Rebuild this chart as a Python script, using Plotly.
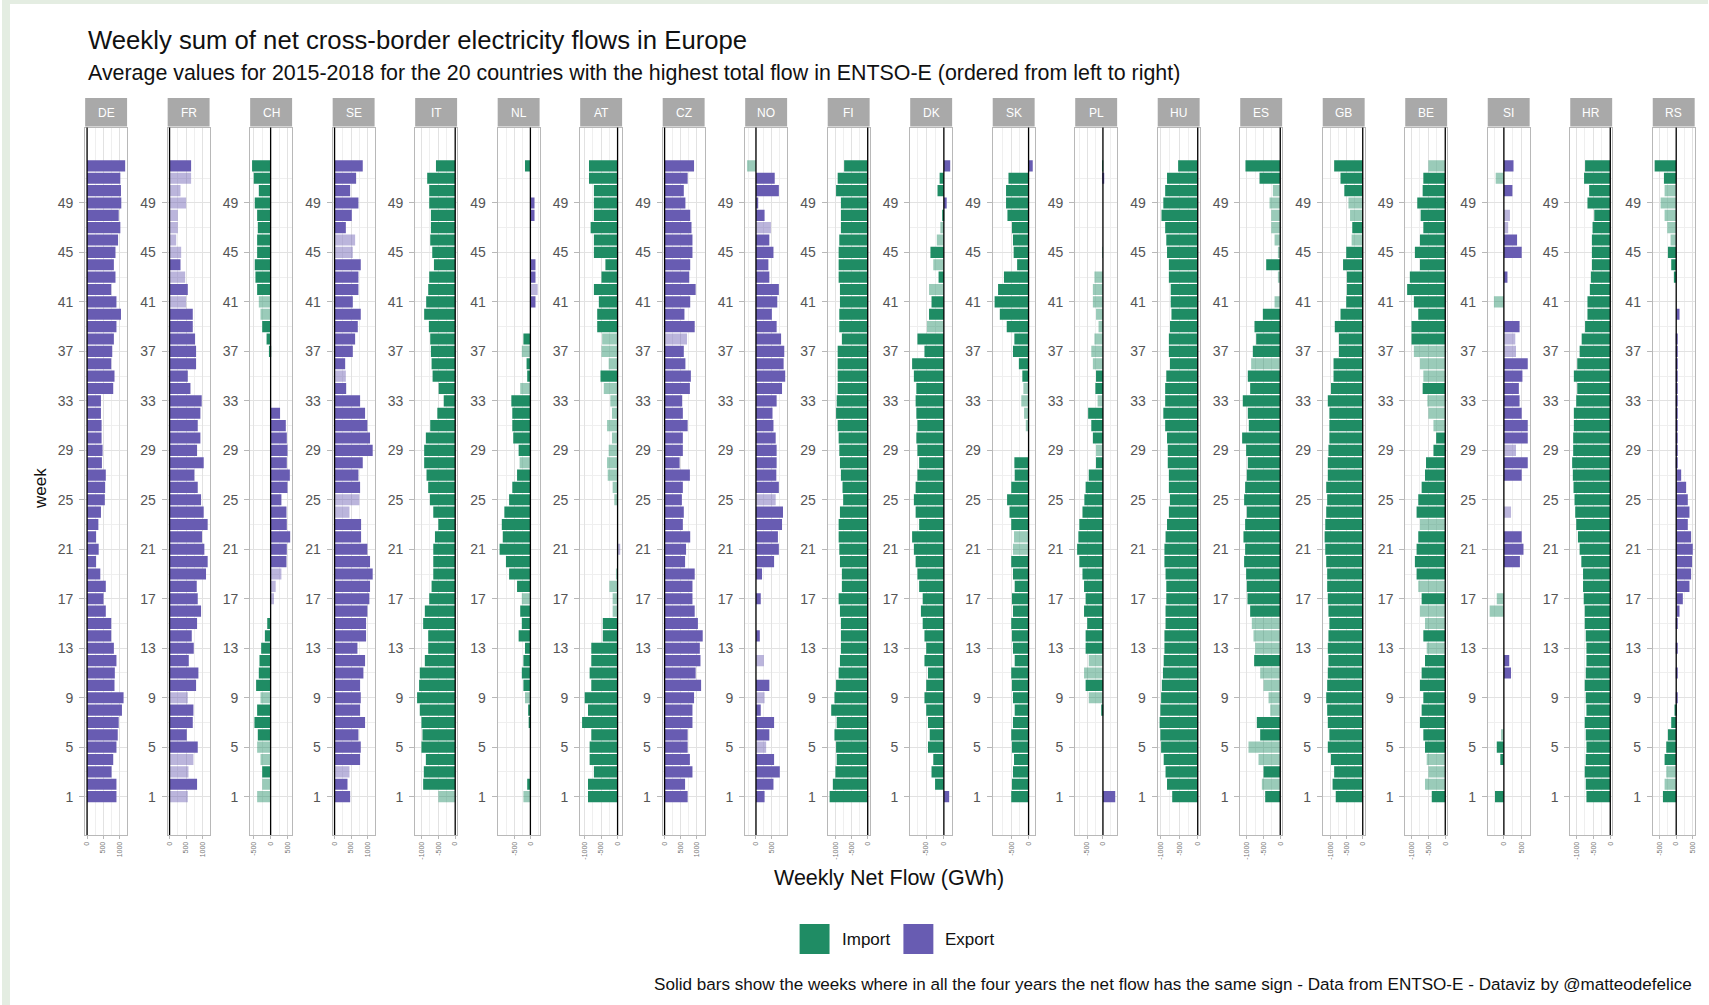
import math
import plotly.graph_objects as go

W, H = 1709, 1005

COUNTRIES = ["DE", "FR", "CH", "SE", "IT", "NL", "AT", "CZ", "NO", "FI",
             "DK", "SK", "PL", "HU", "ES", "GB", "BE", "SI", "HR", "RS"]
WEEKS = list(range(1, 53))
Y_TICKS = list(range(1, 50, 4))

# Weekly net flow in GWh, weeks 1..52 (positive = export, negative = import)
DE = [910, 910, 760, 810, 910, 950, 980, 1080, 1130, 850, 860, 910, 830, 750, 750, 580, 510, 580, 410, 280, 360, 280, 350, 430, 550, 560,
      580, 460, 480, 450, 450, 430, 430, 810, 850, 750, 780, 830, 910, 1050, 910, 750, 880, 830, 880, 960, 1030, 980, 1060, 1050, 1030, 1180]
FR = [550, 830, 570, 720, 850, 520, 700, 720, 550, 800, 870, 580, 730, 670, 830, 950, 850, 820, 1100, 1150, 1050, 980, 1150, 1030, 950, 850,
      750, 1030, 830, 930, 850, 930, 970, 630, 550, 800, 800, 770, 700, 700, 500, 550, 470, 330, 350, 200, 250, 250, 500, 330, 650, 650]
CH = [-400, -250, -250, -300, -400, -380, -480, -400, -300, -430, -350, -330, -280, -170, -100, 0, 100, 150, 320, 470, 480, 580, 480, 470, 320, 500,
      570, 480, 500, 480, 450, 280, 0, 0, 0, 0, -50, -120, -250, -300, -350, -400, -450, -470, -400, -400, -380, -400, -470, -350, -500, -550]
SE = [470, 390, 450, 770, 790, 720, 920, 770, 790, 770, 870, 920, 690, 950, 950, 990, 1050, 1070, 1150, 1070, 990, 800, 800, 450, 750, 770,
      720, 850, 1150, 1070, 990, 920, 770, 350, 340, 320, 550, 620, 700, 790, 550, 720, 720, 790, 550, 620, 340, 520, 720, 470, 650, 850]
IT = [-500, -950, -930, -870, -1000, -970, -1000, -1050, -1130, -1070, -1050, -900, -800, -800, -950, -900, -770, -700, -650, -650, -650, -600, -500, -650, -750, -800,
      -850, -920, -920, -870, -740, -530, -340, -490, -670, -700, -720, -740, -780, -920, -860, -800, -770, -630, -680, -740, -720, -720, -770, -770, -830, -570]
NL = [-220, -100, 0, 0, 0, 0, -30, -70, -170, -220, -270, -220, -170, -370, -270, -320, -270, -420, -670, -770, -970, -870, -900, -820, -670, -570,
      -420, -340, -370, -540, -570, -570, -600, -320, -100, -120, -270, -220, 0, 0, 160, 230, 160, 160, 0, 0, 0, 130, 130, 0, 0, -170]
AT = [-900, -900, -720, -850, -850, -800, -1080, -900, -1000, -800, -850, -800, -800, -450, -450, -150, -150, -250, -50, 0, 80, 0, 0, 0, -100, -150,
      -300, -320, -270, -170, -320, -170, -220, -420, -520, -270, -490, -470, -620, -620, -570, -720, -490, -370, -720, -720, -820, -720, -720, -720, -870, -870]
CZ = [720, 640, 870, 790, 720, 720, 870, 870, 920, 1140, 970, 1120, 1100, 1190, 1040, 940, 870, 870, 940, 640, 670, 800, 570, 600, 540, 570,
      790, 470, 570, 570, 720, 570, 550, 790, 820, 650, 600, 700, 940, 620, 800, 970, 770, 800, 870, 870, 840, 800, 650, 600, 720, 920]
NO = [270, 550, 750, 570, 320, 420, 570, 150, 270, 420, 0, 250, 0, 120, 0, 0, 150, 0, 190, 570, 720, 690, 820, 850, 620, 720,
      640, 650, 650, 620, 550, 520, 650, 820, 920, 870, 890, 790, 650, 500, 670, 720, 420, 390, 550, 420, 470, 270, 70, 720, 590, -280]
FI = [-1180, -1080, -1000, -960, -980, -1030, -960, -1130, -1030, -980, -900, -860, -830, -830, -830, -860, -900, -800, -800, -860, -880, -900, -900, -860, -760, -780,
      -830, -860, -880, -900, -930, -980, -960, -930, -930, -930, -930, -800, -880, -880, -860, -860, -900, -900, -900, -880, -830, -830, -830, -980, -930, -730]
DK = [150, -250, -350, -300, -450, -400, -450, -500, -550, -500, -450, -550, -500, -550, -600, -650, -600, -700, -750, -800, -850, -900, -700, -800, -850, -800,
      -750, -700, -750, -780, -750, -780, -800, -780, -850, -900, -550, -750, -480, -420, -350, -420, -150, -300, -380, -200, -100, -30, 80, -180, -120, 180]
SK = [-500, -480, -450, -420, -480, -500, -450, -400, -450, -480, -500, -400, -450, -480, -500, -450, -480, -400, -450, -500, -450, -420, -500, -550, -620, -500,
      -400, -410, 0, 0, -80, -130, -210, -150, -180, -280, -450, -410, -630, -830, -980, -880, -710, -330, -430, -450, -480, -610, -650, -650, -580, 120]
PL = [390, 0, 0, 0, 0, 0, 0, -50, -450, -550, -600, -450, -550, -550, -500, -600, -550, -600, -650, -750, -820, -780, -750, -650, -590, -550,
      -450, -220, -220, -320, -370, -470, -170, -240, -220, -320, -370, -270, -140, -220, -320, -320, -270, 0, -30, 0, 0, 0, 0, 0, 20, -20]
HU = [-690, -830, -870, -920, -990, -1010, -1030, -1010, -990, -970, -940, -920, -900, -900, -870, -870, -850, -850, -870, -900, -900, -870, -830, -780, -750, -780,
      -780, -810, -810, -830, -880, -930, -880, -880, -850, -750, -780, -780, -750, -710, -730, -730, -780, -780, -830, -850, -880, -980, -930, -880, -830, -530]
ES = [-450, -550, -500, -650, -950, -600, -700, -300, -350, -500, -600, -780, -750, -800, -850, -900, -980, -1000, -1020, -1080, -1050, -1100, -1050, -1000, -1080, -1050,
      -1000, -970, -1020, -1140, -940, -970, -1120, -900, -970, -870, -820, -720, -770, -520, -170, 0, -70, -420, -70, -170, -270, -270, -320, -220, -620, -1040]
GB = [-850, -950, -900, -1000, -1100, -1050, -1100, -1120, -1150, -1120, -1100, -1080, -1100, -1080, -1050, -1080, -1100, -1120, -1120, -1150, -1180, -1200, -1180, -1150, -1120, -1150,
      -1100, -1100, -1080, -1050, -1050, -1050, -1100, -1000, -920, -920, -750, -750, -880, -700, -520, -500, -500, -620, -520, -350, -330, -400, -450, -580, -700, -900]
BE = [-400, -600, -500, -550, -600, -650, -750, -700, -650, -750, -700, -600, -550, -650, -600, -750, -700, -800, -850, -900, -850, -800, -750, -850, -800, -700,
      -600, -570, -350, -270, -350, -500, -530, -670, -650, -750, -930, -1000, -1000, -800, -930, -1130, -1050, -750, -900, -750, -650, -730, -830, -670, -650, -500]
SI = [-250, 0, 0, -100, -200, -80, 0, 0, 0, 0, 200, 150, 0, 0, 0, -400, -200, 0, 0, 450, 550, 500, 0, 200, 0, 0,
      500, 670, 340, 670, 670, 500, 440, 420, 520, 670, 340, 320, 440, 0, -280, 0, 100, 0, 500, 370, 120, 170, 0, 240, -230, 270]
HR = [-700, -720, -750, -720, -700, -720, -750, -700, -720, -750, -720, -700, -700, -720, -750, -750, -780, -800, -800, -850, -900, -950, -1000, -1030, -1050, -1080,
      -1100, -1120, -1090, -1090, -1070, -1070, -1000, -970, -1070, -970, -900, -840, -740, -670, -670, -600, -570, -540, -540, -540, -520, -470, -670, -620, -770, -740]
RS = [-400, -350, -300, -350, -300, -250, -150, -50, 20, 0, 20, 0, 20, 0, 20, 100, 200, 400, 450, 480, 500, 450, 350, 400, 350, 300,
      150, 30, 30, 20, 20, 30, 20, 20, 30, 20, 20, 30, 0, 100, 0, 0, -70, -150, -250, -170, -270, -350, -470, -350, -370, -650]

# Weeks where the four years do not agree on the sign of the net flow
DE_MIXED = []
FR_MIXED = [1, 3, 4, 9, 41, 43, 45, 46, 47, 48, 49, 50, 51]
CH_MIXED = [1, 2, 4, 5, 9, 17, 18, 19, 40, 41]
SE_MIXED = [3, 24, 25, 35, 45, 46]
IT_MIXED = [1]
NL_MIXED = [1, 9, 17, 28, 34, 37, 42]
AT_MIXED = [16, 17, 18, 19, 21, 25, 26, 27, 28, 29, 30, 31, 32, 33, 34, 36, 37, 38]
CZ_MIXED = [38]
NO_MIXED = [5, 9, 12, 25, 47, 52]
FI_MIXED = []
DK_MIXED = [39, 42, 44, 46, 47]
SK_MIXED = [21, 22, 31, 32, 33, 34]
PL_MIXED = [9, 11, 12, 29, 33, 36, 37, 38, 39, 40, 41, 42, 43, 45]
HU_MIXED = []
ES_MIXED = [2, 4, 5, 8, 9, 10, 11, 13, 14, 15, 36, 41, 43, 45, 46, 47, 48, 49, 50]
GB_MIXED = [46, 48, 49]
BE_MIXED = [2, 3, 4, 13, 15, 16, 18, 23, 31, 32, 33, 35, 36, 37, 52]
SI_MIXED = [6, 16, 17, 24, 29, 37, 38, 41, 47, 48, 51]
HR_MIXED = []
RS_MIXED = [2, 3, 46, 47, 48, 49, 50]

FLOWS = [DE, FR, CH, SE, IT, NL, AT, CZ, NO, FI, DK, SK, PL, HU, ES, GB, BE, SI, HR, RS]
MIXED = [DE_MIXED, FR_MIXED, CH_MIXED, SE_MIXED, IT_MIXED, NL_MIXED, AT_MIXED, CZ_MIXED, NO_MIXED, FI_MIXED,
         DK_MIXED, SK_MIXED, PL_MIXED, HU_MIXED, ES_MIXED, GB_MIXED, BE_MIXED, SI_MIXED, HR_MIXED, RS_MIXED]

for name, series in zip(COUNTRIES, FLOWS):
    if len(series) != len(WEEKS):
        raise ValueError(f"{name}: {len(series)} weeks")

# Styling
IMPORT_RGB = (31, 140, 100)
EXPORT_RGB = (104, 92, 178)
MIXED_ALPHA = 0.45
BORDER = "#b8b8b8"
GRID = "#e2e2e2"
GRID_MINOR = "#efefef"
STRIP = "#a9a9a9"
TICK_TXT = "#555555"
FONT = "Liberation Sans, Arial, sans-serif"

PANEL_L0 = 83.3
PANEL_STEP = 82.65
PANEL_W = 42.0
PANEL_TOP = 127.5
PANEL_BOT = 835.0
STRIP_TOP = 98.0


def fx(px):
    return px / W


def fy(px):
    return 1 - px / H


def nice_breaks(lo, hi, n=4):
    raw = (hi - lo) / n
    mag = 10 ** math.floor(math.log10(raw))
    step = mag * 10
    for m in (1, 2, 2.5, 5, 10):
        if m * mag >= raw:
            step = m * mag
            break
    t = math.ceil(lo / step) * step
    out = []
    while t <= hi + 1e-9:
        out.append(round(t, 6))
        t += step
    return out, step


def rgba(rgb, a):
    return f"rgba({rgb[0]},{rgb[1]},{rgb[2]},{a})"


fig = go.Figure()
layout = dict(
    width=W, height=H,
    margin=dict(l=0, r=0, t=0, b=0),
    paper_bgcolor="white", plot_bgcolor="white",
    showlegend=False,
    font=dict(family=FONT, color="#1a1a1a"),
)
shapes = []
annotations = []

# outer frame tint along the left and top edges
shapes.append(dict(type="rect", xref="paper", yref="paper", x0=0, x1=fx(8), y0=0, y1=1,
                   fillcolor="#e4ede2", line=dict(width=0), layer="below"))
shapes.append(dict(type="rect", xref="paper", yref="paper", x0=0, x1=1, y0=fy(4), y1=1,
                   fillcolor="#e4ede2", line=dict(width=0), layer="below"))

for i, (name, vals, mixed) in enumerate(zip(COUNTRIES, FLOWS, MIXED)):
    k = i + 1
    sfx = "" if k == 1 else str(k)
    left = PANEL_L0 + i * PANEL_STEP
    right = left + PANEL_W

    lo = min(0, min(vals))
    hi = max(0, max(vals))
    pad = 0.05 * (hi - lo)
    xr = [lo - pad, hi + pad]
    breaks, step = nice_breaks(lo, hi)
    minor = [b + step / 2 for b in [breaks[0] - step] + breaks if xr[0] <= b + step / 2 <= xr[1]]

    colors = []
    for w, v in zip(WEEKS, vals):
        base = IMPORT_RGB if v < 0 else EXPORT_RGB
        colors.append(rgba(base, MIXED_ALPHA if w in mixed else 1.0))

    fig.add_trace(go.Bar(
        x=vals, y=WEEKS, orientation="h", width=0.9,
        marker=dict(color=colors, line=dict(width=0)),
        xaxis="x" + sfx, yaxis="y" + sfx, name=name, hoverinfo="x+y",
    ))

    layout["xaxis" + sfx] = dict(
        domain=[fx(left), fx(right)], range=xr, anchor="y" + sfx,
        showline=True, mirror=True, linecolor=BORDER, linewidth=1,
        showgrid=True, gridcolor=GRID, gridwidth=1, zeroline=False,
        ticks="outside", ticklen=3, tickcolor=BORDER,
        tickvals=breaks, ticktext=[f"{b:g}" for b in breaks], tickangle=-90,
        tickfont=dict(size=7, color="#777777", family=FONT),
        minor=dict(tickvals=minor, showgrid=True, gridcolor=GRID_MINOR, gridwidth=1),
        fixedrange=True,
    )
    layout["yaxis" + sfx] = dict(
        domain=[fy(PANEL_BOT), fy(PANEL_TOP)], range=[-2.1, 55.1], anchor="x" + sfx,
        showline=True, mirror=True, linecolor=BORDER, linewidth=1,
        showgrid=True, gridcolor=GRID, gridwidth=1, zeroline=False,
        ticks="outside", ticklen=5, tickcolor=BORDER,
        tickvals=Y_TICKS, ticklabelstandoff=3,
        tickfont=dict(size=14, color=TICK_TXT, family=FONT),
        minor=dict(tickvals=list(range(3, 52, 4)), showgrid=True, gridcolor=GRID_MINOR, gridwidth=1),
        fixedrange=True,
    )

    # zero reference line
    shapes.append(dict(type="line", xref="x" + sfx, yref=f"y{sfx} domain", x0=0, x1=0, y0=0, y1=1,
                       line=dict(color="black", width=1.3), layer="above"))
    # facet strip
    shapes.append(dict(type="rect", xref="paper", yref="paper",
                       x0=fx(left), x1=fx(right), y0=fy(PANEL_TOP - 1), y1=fy(STRIP_TOP),
                       fillcolor=STRIP, line=dict(width=0)))
    annotations.append(dict(text=name, xref="paper", yref="paper",
                            x=fx((left + right) / 2), y=fy((STRIP_TOP + PANEL_TOP) / 2),
                            showarrow=False, xanchor="center", yanchor="middle",
                            font=dict(size=12, color="white", family=FONT)))

# titles
annotations.append(dict(text="Weekly sum of net cross-border electricity flows in Europe",
                        xref="paper", yref="paper", x=fx(84), y=fy(40), xanchor="left", yanchor="middle",
                        showarrow=False, font=dict(size=25.7, color="#111111", family=FONT)))
annotations.append(dict(text="Average values for 2015-2018 for the 20 countries with the highest total flow in ENTSO-E (ordered from left to right)",
                        xref="paper", yref="paper", x=fx(84), y=fy(73), xanchor="left", yanchor="middle",
                        showarrow=False, font=dict(size=21.4, color="#111111", family=FONT)))
annotations.append(dict(text="week", xref="paper", yref="paper", x=fx(38), y=fy(488),
                        xanchor="center", yanchor="middle", textangle=-90, showarrow=False,
                        font=dict(size=17, color="#111111", family=FONT)))
annotations.append(dict(text="Weekly Net Flow (GWh)", xref="paper", yref="paper", x=fx(889), y=fy(878),
                        xanchor="center", yanchor="middle", showarrow=False,
                        font=dict(size=21.5, color="#111111", family=FONT)))

# legend
for label, rgb, kx in [("Import", IMPORT_RGB, 799), ("Export", EXPORT_RGB, 903)]:
    shapes.append(dict(type="rect", xref="paper", yref="paper",
                       x0=fx(kx), x1=fx(kx + 30), y0=fy(954), y1=fy(924),
                       fillcolor=rgba(rgb, 1.0), line=dict(width=0)))
    annotations.append(dict(text=label, xref="paper", yref="paper", x=fx(kx + 40), y=fy(939),
                            xanchor="left", yanchor="middle", showarrow=False,
                            font=dict(size=17, color="#111111", family=FONT)))

annotations.append(dict(text="Solid bars show the weeks where in all the four years the net flow has the same sign - Data from ENTSO-E - Dataviz by @matteodefelice",
                        xref="paper", yref="paper", x=fx(1695), y=fy(984), xanchor="right", yanchor="middle",
                        showarrow=False, font=dict(size=17.1, color="#111111", family=FONT)))

layout["shapes"] = shapes
layout["annotations"] = annotations
fig.update_layout(**layout)
fig.write_html("out.html")
